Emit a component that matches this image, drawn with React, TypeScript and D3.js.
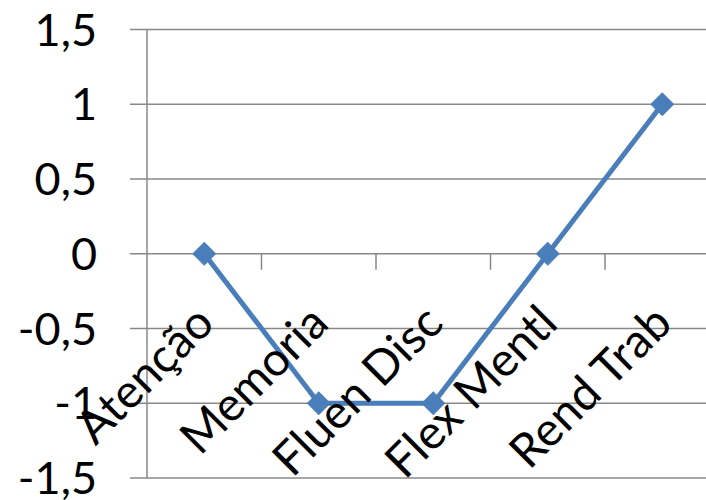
import React from "react";
import * as d3 from "d3";

const categories = ["Atenção", "Memoria", "Fluen Disc", "Flex Mentl", "Rend Trab"];
const values = [0, -1, -1, 0, 1];
const yTicks = [-1.5, -1, -0.5, 0, 0.5, 1, 1.5];

const W = 706;
const H = 500;
const FONT = "Lato, 'Open Sans', sans-serif";

export default function App() {
  const x = d3.scaleBand<string>().domain(categories).range([147, 147 + 5 * 114.5]);
  const y = d3.scaleLinear().domain([-1.5, 1.5]).range([478, 29.5]);
  const cx = (c: string) => (x(c) as number) + x.bandwidth() / 2;
  const line = d3
    .line<number>()
    .x((_, i) => cx(categories[i]))
    .y((d) => y(d));
  const fmt = (v: number) => String(v).replace(".", ",");
  const grid = "#888888";
  const blue = "#4a7ebb";
  const boundaries = categories.map((c) => x(c) as number).concat([(x(categories[4]) as number) + x.bandwidth()]);
  const ms = 12;

  return (
    <svg width={W} height={H} style={{ position: "absolute", left: 0, top: 0, background: "#fff" }}>
      <rect width={W} height={H} fill="#fff" />
      {yTicks.map((t) => (
        <line key={"g" + t} x1={130} x2={W} y1={y(t)} y2={y(t)} stroke={grid} strokeWidth={1.5} />
      ))}
      <line x1={147} x2={147} y1={y(1.5)} y2={y(-1.5)} stroke={grid} strokeWidth={1.5} />
      {boundaries.slice(1).map((b, i) => (
        <line key={"t" + i} x1={b} x2={b} y1={y(0)} y2={y(0) + 16} stroke={grid} strokeWidth={1.5} />
      ))}
      {yTicks.map((t) => (
        <text
          key={"yl" + t}
          x={97}
          y={y(t) + 16}
          textAnchor="end"
          fontFamily={FONT}
          fontSize={45}
          fill="#000"
        >
          {fmt(t)}
        </text>
      ))}
      <path d={line(values) || ""} fill="none" stroke={blue} strokeWidth={5} strokeLinejoin="round" />
      {values.map((v, i) => {
        const px = cx(categories[i]);
        const py = y(v);
        return (
          <path
            key={"m" + i}
            d={`M${px},${py - ms}L${px + ms},${py}L${px},${py + ms}L${px - ms},${py}Z`}
            fill={blue}
          />
        );
      })}
      {categories.map((c) => (
        <text
          key={"xl" + c}
          transform={`translate(${cx(c) + 12},${y(0) + 72}) rotate(-45)`}
          textAnchor="end"
          fontFamily={FONT}
          fontSize={47}
          fill="#000"
        >
          {c}
        </text>
      ))}
    </svg>
  );
}
